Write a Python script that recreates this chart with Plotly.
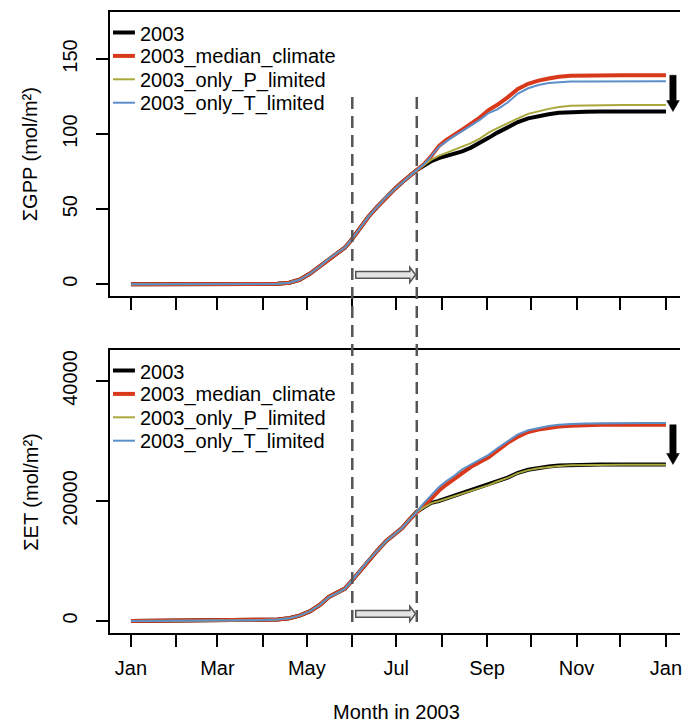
import plotly.graph_objects as go

# ---------------- data (day of year 2003) ----------------
days_early = [0, 60, 90, 100, 108, 115, 122, 129, 135, 141, 146, 150, 156, 162, 168, 174, 180, 185, 190, 195]
days_late = [200, 205, 210, 215, 220, 226, 232, 238, 244, 250, 257, 264, 271, 278, 285, 292, 300, 310, 320, 335, 350, 365]

# cumulative GPP (mol/m2)
gpp_early = [0, 0, 0.1, 0.3, 1.0, 3.0, 7.0, 12.0, 17.0, 21.0, 24.5, 29.0, 37.0, 45.0, 51.5, 58.0, 63.5, 68.0, 72.0, 76.0]
gpp_2003_late = [79, 82, 84, 85.5, 87, 88.5, 91, 94, 97.5, 101, 104.5, 108, 110.5, 112, 113.2, 114.2, 114.7, 114.9, 115, 115, 115, 115]
gpp_median_late = [80, 85.5, 92, 96, 99.5, 103, 107, 111, 116, 119.5, 124.5, 130, 133.5, 135.6, 137, 138.2, 138.8, 139.1, 139.2, 139.2, 139.2, 139.2]
gpp_onlyP_late = [79.5, 83, 85.5, 87.5, 89.5, 91.5, 94, 97, 101, 104, 107.5, 110.5, 113.5, 115.2, 116.8, 118, 118.8, 119.1, 119.3, 119.3, 119.3, 119.3]
gpp_onlyT_late = [80, 85.5, 91.5, 95, 98.5, 102, 105.5, 109.5, 114, 116.5, 121, 127, 130.5, 132.7, 134, 134.7, 135, 135.1, 135.2, 135.2, 135.2, 135.2]

# cumulative ET (mol/m2)
et_early = [0, 50, 150, 250, 450, 900, 1600, 2700, 4000, 4700, 5400, 6500, 8300, 10100, 11700, 13300, 14500, 15500, 16900, 18200]
et_2003_late = [19000, 19700, 20000, 20400, 20800, 21300, 21800, 22200, 22700, 23300, 23900, 24700, 25200, 25500, 25750, 25900, 26000, 26050, 26100, 26100, 26100, 26100]
et_median_late = [19300, 20400, 21700, 22700, 23600, 24800, 25700, 26500, 27300, 28400, 29700, 30700, 31500, 31900, 32200, 32400, 32550, 32650, 32700, 32700, 32700, 32700]
et_onlyP_late = [18950, 19650, 19950, 20350, 20750, 21250, 21750, 22150, 22650, 23250, 23850, 24650, 25150, 25450, 25700, 25850, 25950, 26000, 26050, 26050, 26050, 26050]
et_onlyT_late = [19700, 21000, 22300, 23300, 24100, 25300, 26100, 26900, 27700, 28800, 30000, 31100, 31800, 32200, 32500, 32700, 32850, 32900, 32950, 33000, 33000, 33000]

series_names = ["2003", "2003_median_climate", "2003_only_P_limited", "2003_only_T_limited"]
series_colors = ["#000000", "#d8391b", "#a9a83c", "#5b8fca"]
series_widths = [4, 4, 2, 2]

month_days = [0, 31, 59, 90, 120, 151, 181, 212, 243, 273, 304, 334, 365]
month_labels = ["Jan", "", "Mar", "", "May", "", "Jul", "", "Sep", "", "Nov", "", "Jan"]

gpp_ticks = [0, 50, 100, 150]
gpp_tick_labels = ["0", "50", "100", "150"]
et_ticks = [0, 20000, 40000]
et_tick_labels = ["0", "20000", "40000"]

window_start = 151   # Jun 1
window_end = 195     # mid July

# ---------------- layout geometry ----------------
W, H = 682, 727
ML, MR, MT, MB = 110, 0, 12, 94
PH = H - MT - MB
top_px = (12, 296)
bot_px = (350, 633)


def to_paper_y(px):
    return (H - MB - px) / PH


def to_paper_x(px):
    return (px - ML) / (W - ML - MR)


x_range = [-14.3, 374.6]
gpp_range = [-7.8, 181.3]
et_range = [-2000, 45170]

days = days_early + days_late
gpp_series = [gpp_early + gpp_2003_late, gpp_early + gpp_median_late,
              gpp_early + gpp_onlyP_late, gpp_early + gpp_onlyT_late]
et_series = [et_early + et_2003_late, et_early + et_median_late,
             et_early + et_onlyP_late, et_early + et_onlyT_late]

fig = go.Figure()
for vals, name, col, w in zip(gpp_series, series_names, series_colors, series_widths):
    fig.add_trace(go.Scatter(x=days, y=vals, mode="lines", name=name,
                             line=dict(color=col, width=w), xaxis="x", yaxis="y",
                             showlegend=False))
for vals, name, col, w in zip(et_series, series_names, series_colors, series_widths):
    fig.add_trace(go.Scatter(x=days, y=vals, mode="lines", name=name,
                             line=dict(color=col, width=w), xaxis="x2", yaxis="y2",
                             showlegend=False))

FONT = "Liberation Sans, Arial, sans-serif"
FS = 20
axis_common = dict(showline=True, linecolor="black", linewidth=1.5, ticks="outside",
                   ticklen=12, tickwidth=1.5, tickcolor="black", showgrid=False,
                   zeroline=False, ticklabeloverflow="allow",
                   tickfont=dict(size=FS, color="black", family=FONT))

fig.update_layout(
    width=W, height=H, margin=dict(l=ML, r=MR, t=MT, b=MB),
    plot_bgcolor="white", paper_bgcolor="white",
    font=dict(family=FONT, size=FS, color="black"),
    xaxis=dict(domain=[0, 1], anchor="y", range=x_range, tickvals=month_days,
               showticklabels=False, mirror=True, **axis_common),
    yaxis=dict(domain=[to_paper_y(top_px[1]), to_paper_y(top_px[0])], anchor="x",
               range=gpp_range, tickvals=gpp_ticks, ticktext=gpp_tick_labels, tickangle=-90,
               ticklabelstandoff=11, **axis_common),
    xaxis2=dict(domain=[0, 1], anchor="y2", range=x_range, tickvals=month_days,
                ticktext=month_labels, mirror=True, ticklabelstandoff=4, **axis_common),
    yaxis2=dict(domain=[to_paper_y(bot_px[1]), to_paper_y(bot_px[0])], anchor="x2",
                range=et_range, tickvals=et_ticks, ticktext=et_tick_labels, tickangle=-90,
                ticklabelstandoff=11, **axis_common),
)

shapes = []
annotations = []

# dashed window lines spanning both panels
for d in (window_start, window_end):
    shapes.append(dict(type="line", xref="x", yref="paper", x0=d, x1=d,
                       y0=to_paper_y(622), y1=to_paper_y(96),
                       line=dict(color="#555555", width=2.5, dash="12px,7px")))

# horizontal grey shift arrows and black drop arrows
px_per_day = (W - ML - MR) / (x_range[1] - x_range[0])
panels = [("y", gpp_range, top_px, 6.3, gpp_series), ("y2", et_range, bot_px, 1200, et_series)]
for yref, yr, ppx, yc, ser in panels:
    ppu = (ppx[1] - ppx[0]) / (yr[1] - yr[0])
    sh = 3.4 / ppu
    hh = 7.6 / ppu
    xa = window_start + 3.5 / px_per_day
    xb = window_end - 7.0 / px_per_day
    xt = window_end - 1.2 / px_per_day
    path = (f"M {xa},{yc - sh} L {xb},{yc - sh} L {xb},{yc - hh} L {xt},{yc} "
            f"L {xb},{yc + hh} L {xb},{yc + sh} L {xa},{yc + sh} Z")
    shapes.append(dict(type="path", xref="x", yref=yref, path=path,
                       fillcolor="#e4e4e4", line=dict(color="#555555", width=1.5)))
    y_hi = ser[1][-1]
    y_lo = ser[0][-1]
    xc = 369.8
    sw = 3.2 / px_per_day
    hw = 6.4 / px_per_day
    hl = 11 / ppu
    path2 = (f"M {xc - sw},{y_hi} L {xc + sw},{y_hi} L {xc + sw},{y_lo + hl} L {xc + hw},{y_lo + hl} "
             f"L {xc},{y_lo} L {xc - hw},{y_lo + hl} L {xc - sw},{y_lo + hl} Z")
    shapes.append(dict(type="path", xref="x", yref=yref, path=path2,
                       fillcolor="black", line=dict(color="black", width=0.5)))

# manual legends
for ppx in (top_px, bot_px):
    for i, (name, col, w) in enumerate(zip(series_names, series_colors, series_widths)):
        ypx = ppx[0] + 20.5 + 23.4 * i
        yp = to_paper_y(ypx)
        shapes.append(dict(type="line", xref="paper", yref="paper",
                           x0=to_paper_x(113), x1=to_paper_x(135), y0=yp, y1=yp,
                           line=dict(color=col, width=w)))
        annotations.append(dict(text=name, xref="paper", yref="paper",
                                x=to_paper_x(138), y=to_paper_y(ypx + 1), xanchor="left",
                                yanchor="middle", showarrow=False,
                                font=dict(size=FS, family=FONT, color="black")))

# axis titles
annotations.append(dict(text="ΣGPP (mol/m²)", xref="paper", yref="paper",
                        x=to_paper_x(30), y=to_paper_y((top_px[0] + top_px[1]) / 2),
                        textangle=-90, showarrow=False, xanchor="center", yanchor="middle",
                        font=dict(size=FS, family=FONT, color="black")))
annotations.append(dict(text="ΣET (mol/m²)", xref="paper", yref="paper",
                        x=to_paper_x(30), y=to_paper_y((bot_px[0] + bot_px[1]) / 2),
                        textangle=-90, showarrow=False, xanchor="center", yanchor="middle",
                        font=dict(size=FS, family=FONT, color="black")))
annotations.append(dict(text="Month in 2003", xref="paper", yref="paper",
                        x=to_paper_x(398), y=to_paper_y(712), showarrow=False,
                        xanchor="center", yanchor="middle",
                        font=dict(size=FS, family=FONT, color="black")))

fig.update_layout(shapes=shapes, annotations=annotations)
fig.write_html("out.html", config={"displayModeBar": False},
               post_script="document.body.style.margin='0';document.body.style.overflow='hidden';")
